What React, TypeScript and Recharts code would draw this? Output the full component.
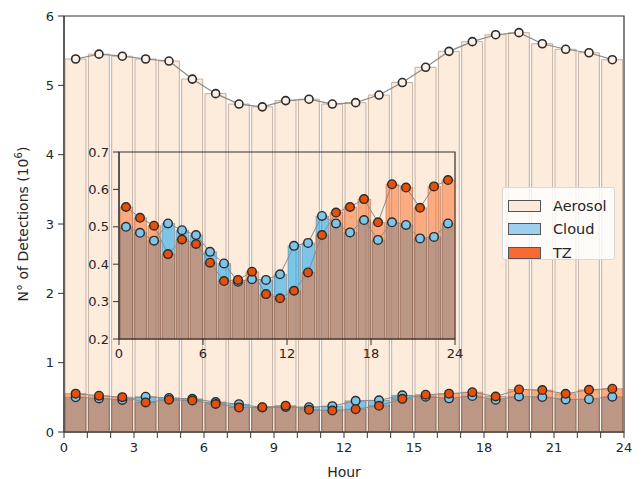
import React from 'react';
import { ComposedChart, Bar, Line, XAxis, YAxis, Legend, ReferenceArea } from 'recharts';

const hours = [0.5, 1.5, 2.5, 3.5, 4.5, 5.5, 6.5, 7.5, 8.5, 9.5, 10.5, 11.5, 12.5, 13.5, 14.5, 15.5, 16.5, 17.5, 18.5, 19.5, 20.5, 21.5, 22.5, 23.5];
const aerosol = [5.38, 5.45, 5.42, 5.38, 5.35, 5.09, 4.88, 4.73, 4.69, 4.78, 4.80, 4.73, 4.75, 4.86, 5.04, 5.26, 5.49, 5.63, 5.73, 5.76, 5.60, 5.52, 5.47, 5.37];
const cloud = [0.500, 0.484, 0.463, 0.509, 0.491, 0.478, 0.433, 0.402, 0.353, 0.360, 0.358, 0.373, 0.449, 0.457, 0.529, 0.509, 0.485, 0.518, 0.465, 0.512, 0.505, 0.469, 0.473, 0.509];
const tz = [0.553, 0.524, 0.503, 0.427, 0.466, 0.454, 0.404, 0.355, 0.358, 0.380, 0.320, 0.309, 0.329, 0.378, 0.478, 0.538, 0.553, 0.574, 0.512, 0.614, 0.605, 0.551, 0.608, 0.625];

const mainXTicks = [0, 1, 2, 3, 4, 5, 6, 7, 8, 9, 10, 11, 12, 13, 14, 15, 16, 17, 18, 19, 20, 21, 22, 23, 24];
const mainYTicks = [0, 1, 2, 3, 4, 5, 6];
const insetXTicks = [0, 6, 12, 18, 24];
const insetYTicks = [0.2, 0.3, 0.4, 0.5, 0.6, 0.7];
const legendItems = [
  { name: 'Aerosol', fill: '#fde9d9', stroke: '#555' },
  { name: 'Cloud', fill: '#9dd0ef', stroke: '#555' },
  { name: 'TZ', fill: '#f86a34', stroke: '#555' },
];

const rows = hours.map((h, i) => ({ h, aerosol: aerosol[i], cloud: cloud[i], tz: tz[i] }));

const FONT = '"DejaVu Sans", sans-serif';
const AX = '#333333';
const TXT = '#262626';
const PEACH = '#fdebdc';
const CLOUD_FILL = '#12a4f2';
const TZ_FILL = '#fb6924';

const tickStyle = { fill: TXT, fontSize: 13, fontFamily: FONT };

const LegendBox = () => (
  <div style={{ background: 'rgba(255,255,255,0.8)', border: '1px solid #d8d8d8', borderRadius: 3, width: 113, height: 73, boxSizing: 'border-box', padding: '6px 0 0 5px', fontFamily: FONT, fontSize: 14.5, color: TXT }}>
    {legendItems.map((it) => (
      <div key={it.name} style={{ display: 'flex', alignItems: 'center', height: 23.5 }}>
        <div style={{ width: 31, height: 10, background: it.fill, border: `1px solid ${it.stroke}`, marginRight: 12 }} />
        <span>{it.name}</span>
      </div>
    ))}
  </div>
);

export default function App() {
  const barW = 560 / 24;
  const insetBarW = 336 / 24;
  return (
    <div style={{ position: 'absolute', left: 0, top: 0, width: 643, height: 479, background: '#fff' }}>
      <div style={{ position: 'absolute', left: 0, top: 0 }}>
        <ComposedChart width={643} height={479} data={rows} margin={{ top: 16, right: 19, bottom: 0, left: 0 }}>
          <XAxis xAxisId="a" type="number" dataKey="h" domain={[0, 24]} ticks={mainXTicks} interval={0}
            tickFormatter={(v: number) => (v % 3 === 0 ? String(v) : '')} height={47} tickSize={6} tickMargin={5}
            stroke={AX} tick={tickStyle}
            label={{ value: 'Hour', position: 'insideBottom', offset: 2, fill: TXT, fontSize: 14, fontFamily: FONT }} />
          <XAxis xAxisId="c" hide type="number" dataKey="h" domain={[0, 24]} />
          <XAxis xAxisId="t" hide type="number" dataKey="h" domain={[0, 24]} />
          <YAxis type="number" domain={[0, 6]} ticks={mainYTicks} interval={0} width={64} tickSize={6} tickMargin={4} stroke={AX} tick={tickStyle}
            label={{
              content: () => (
                <text x={0} y={0} transform="translate(28,224) rotate(-90)" textAnchor="middle" fill={TXT} fontSize={14} fontFamily={FONT}>
                  N° of Detections (10<tspan dy={-6} fontSize={10}>6</tspan><tspan dy={6}>)</tspan>
                </text>
              ),
            }} />
          <Bar xAxisId="a" dataKey="aerosol" barSize={barW} fill={PEACH} stroke="#c4ae9c" strokeWidth={1} isAnimationActive={false} />
          <Line xAxisId="a" dataKey="aerosol" stroke="#8a8a8a" strokeWidth={1.2}
            dot={{ r: 4, fill: '#fdf0e6', stroke: '#2b2b2b', strokeWidth: 1.6 }} isAnimationActive={false} />
          <Bar xAxisId="c" dataKey="cloud" barSize={barW} fill={CLOUD_FILL} fillOpacity={0.55} stroke="#6a4a3a" strokeOpacity={0.35} strokeWidth={1} isAnimationActive={false} />
          <Bar xAxisId="t" dataKey="tz" barSize={barW} fill={TZ_FILL} fillOpacity={0.5} stroke="#6a4a3a" strokeOpacity={0.35} strokeWidth={1} isAnimationActive={false} />
          <Line xAxisId="c" dataKey="cloud" stroke="#8a8a8a" strokeWidth={1}
            dot={{ r: 4.3, fill: '#7fc5ea', stroke: '#2b2b2b', strokeWidth: 1.4 }} isAnimationActive={false} />
          <Line xAxisId="t" dataKey="tz" stroke="#8a8a8a" strokeWidth={1}
            dot={{ r: 4.3, fill: '#e8500a', stroke: '#2b2b2b', strokeWidth: 1.4 }} isAnimationActive={false} />
          <ReferenceArea xAxisId="a" x1={0} x2={24} y1={0} y2={6} fill="none" fillOpacity={0} stroke={AX} strokeWidth={1.2} strokeOpacity={1} ifOverflow="visible" />
          <Legend layout="vertical" align="center" verticalAlign="middle" content={() => <LegendBox />}
            wrapperStyle={{ position: 'absolute', left: 502, top: 187, width: 113, height: 73 }} />
        </ComposedChart>
      </div>
      <div style={{ position: 'absolute', left: 0, top: 0 }}>
        <ComposedChart width={643} height={479} data={rows} margin={{ top: 152, right: 188, bottom: 110, left: 79 }}>
          <XAxis xAxisId="a" type="number" dataKey="h" domain={[0, 24]} ticks={insetXTicks} interval={0} height={30}
            tickSize={6} tickMargin={4} stroke={AX} tick={tickStyle} />
          <XAxis xAxisId="t" hide type="number" dataKey="h" domain={[0, 24]} />
          <YAxis type="number" domain={[0.2, 0.7]} ticks={insetYTicks} interval={0} width={40} tickSize={6} tickMargin={4}
            stroke={AX} tick={tickStyle} tickFormatter={(v: number) => v.toFixed(1)} allowDataOverflow />
          <Bar xAxisId="a" dataKey="cloud" barSize={insetBarW} fill={CLOUD_FILL} fillOpacity={0.55} stroke="#6a4a3a" strokeOpacity={0.35} strokeWidth={1} isAnimationActive={false} />
          <Bar xAxisId="t" dataKey="tz" barSize={insetBarW} fill={TZ_FILL} fillOpacity={0.5} stroke="#6a4a3a" strokeOpacity={0.35} strokeWidth={1} isAnimationActive={false} />
          <Line xAxisId="a" dataKey="cloud" stroke="#8a8a8a" strokeWidth={1}
            dot={{ r: 4.3, fill: '#7fc5ea', stroke: '#2b2b2b', strokeWidth: 1.4 }} isAnimationActive={false} />
          <Line xAxisId="t" dataKey="tz" stroke="#8a8a8a" strokeWidth={1}
            dot={{ r: 4.3, fill: '#e8500a', stroke: '#2b2b2b', strokeWidth: 1.4 }} isAnimationActive={false} />
          <ReferenceArea xAxisId="a" x1={0} x2={24} y1={0.2} y2={0.7} fill="none" fillOpacity={0} stroke={AX} strokeWidth={1.2} strokeOpacity={1} ifOverflow="visible" />
        </ComposedChart>
      </div>
    </div>
  );
}
